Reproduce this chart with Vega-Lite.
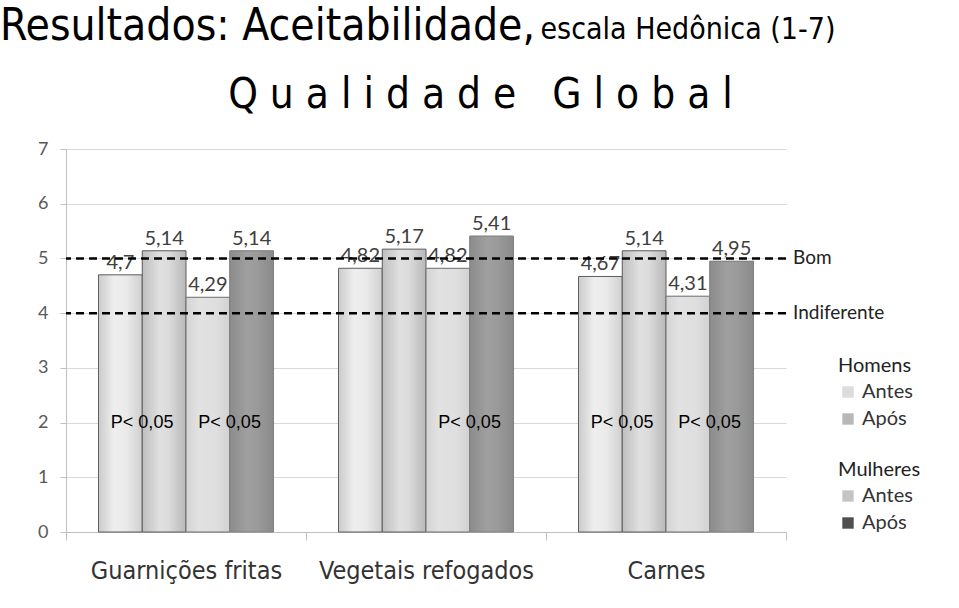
{
  "$schema": "https://vega.github.io/schema/vega-lite/v6.json",
  "width": 720,
  "height": 383,
  "autosize": {"type": "none"},
  "padding": {"left": 66, "top": 149, "right": 173, "bottom": 76},
  "background": "white",
  "config": {
    "locale": {"number": {"decimal": ",", "thousands": ".", "grouping": [3], "currency": ["", ""]}},
    "view": {"stroke": null},
    "font": "Lato",
    "legend": {
      "symbolType": "square",
      "symbolSize": 130,
      "symbolStrokeWidth": 0,
      "titleFont": "Lato",
      "titleFontSize": 20,
      "titleFontWeight": "normal",
      "titleColor": "#222222",
      "labelFont": "Lato",
      "labelFontSize": 20,
      "labelColor": "#333333",
      "rowPadding": 7,
      "titlePadding": 6
    }
  },
  "title": {
    "text": "Resultados: Aceitabilidade,",
    "anchor": "start",
    "frame": "group",
    "dx": -66,
    "dy": 39,
    "font": "DejaVu Sans Condensed, Liberation Sans Narrow, Liberation Sans, sans-serif",
    "fontSize": 44,
    "fontWeight": "normal",
    "color": "#000000"
  },
  "datasets": {
    "medias": [
      {"categoria": "Guarnições fritas", "grupo": "Homens", "periodo": "Antes", "serie": "Homens Antes", "valor": 4.7},
      {"categoria": "Guarnições fritas", "grupo": "Homens", "periodo": "Após", "serie": "Homens Após", "valor": 5.14},
      {"categoria": "Guarnições fritas", "grupo": "Mulheres", "periodo": "Antes", "serie": "Mulheres Antes", "valor": 4.29},
      {"categoria": "Guarnições fritas", "grupo": "Mulheres", "periodo": "Após", "serie": "Mulheres Após", "valor": 5.14},
      {"categoria": "Vegetais refogados", "grupo": "Homens", "periodo": "Antes", "serie": "Homens Antes", "valor": 4.82},
      {"categoria": "Vegetais refogados", "grupo": "Homens", "periodo": "Após", "serie": "Homens Após", "valor": 5.17},
      {"categoria": "Vegetais refogados", "grupo": "Mulheres", "periodo": "Antes", "serie": "Mulheres Antes", "valor": 4.82},
      {"categoria": "Vegetais refogados", "grupo": "Mulheres", "periodo": "Após", "serie": "Mulheres Após", "valor": 5.41},
      {"categoria": "Carnes", "grupo": "Homens", "periodo": "Antes", "serie": "Homens Antes", "valor": 4.67},
      {"categoria": "Carnes", "grupo": "Homens", "periodo": "Após", "serie": "Homens Após", "valor": 5.14},
      {"categoria": "Carnes", "grupo": "Mulheres", "periodo": "Antes", "serie": "Mulheres Antes", "valor": 4.31},
      {"categoria": "Carnes", "grupo": "Mulheres", "periodo": "Após", "serie": "Mulheres Após", "valor": 4.95}
    ],
    "linhas": [
      {"linha": "Bom", "valor": 5},
      {"linha": "Indiferente", "valor": 4}
    ],
    "significancia": [
      {"categoria": "Guarnições fritas", "serie": "Homens Após", "texto": "P< 0,05"},
      {"categoria": "Guarnições fritas", "serie": "Mulheres Após", "texto": "P< 0,05"},
      {"categoria": "Vegetais refogados", "serie": "Mulheres Após", "texto": "P< 0,05"},
      {"categoria": "Carnes", "serie": "Homens Após", "texto": "P< 0,05"},
      {"categoria": "Carnes", "serie": "Mulheres Após", "texto": "P< 0,05"}
    ]
  },
  "resolve": {"scale": {"fill": "independent"}},
  "layer": [
    {
      "data": {"name": "medias"},
      "transform": [{"filter": "datum.grupo === 'Homens'"}],
      "mark": {"type": "bar"},
      "encoding": {
        "x": {
          "field": "categoria", "type": "nominal",
          "sort": ["Guarnições fritas", "Vegetais refogados", "Carnes"],
          "scale": {"paddingInner": 0, "paddingOuter": 0},
          "axis": {
            "title": "Q u a l i d a d e\u00a0\u00a0\u00a0G l o b a l",
            "titleX": 414, "titleY": -425,
            "titleAlign": "center", "titleBaseline": "alphabetic",
            "titleFont": "DejaVu Sans Condensed, Liberation Sans Narrow, Liberation Sans, sans-serif", "titleFontSize": 42,
            "titleFontWeight": "normal", "titleColor": "#000000",
            "labelAngle": 0, "labelFont": "DejaVu Sans Condensed, Liberation Sans Narrow, Liberation Sans, sans-serif", "labelFontSize": 25,
            "labelColor": "#333333", "labelPadding": 18, "labelLimit": 300,
            "tickBand": "extent", "tickSize": 8, "tickColor": "#bfbfbf",
            "domainColor": "#bfbfbf", "grid": false
          }
        },
        "xOffset": {
          "field": "serie", "type": "nominal",
          "scale": {"domain": ["Homens Antes", "Homens Após", "Mulheres Antes", "Mulheres Após"], "paddingInner": 0, "paddingOuter": 0.743}
        },
        "y": {
          "field": "valor", "type": "quantitative",
          "scale": {"domain": [0, 7], "nice": false},
          "axis": {
            "title": "escala Hedônica (1-7)",
            "titleAngle": 0, "titleX": 474, "titleY": -111,
            "titleAlign": "left", "titleBaseline": "alphabetic",
            "titleFont": "DejaVu Sans Condensed, Liberation Sans Narrow, Liberation Sans, sans-serif", "titleFontSize": 30,
            "titleFontWeight": "normal", "titleColor": "#000000",
            "values": [0, 1, 2, 3, 4, 5, 6, 7], "format": "d",
            "grid": true, "gridColor": "#d9d9d9",
            "domainColor": "#bfbfbf", "tickColor": "#bfbfbf", "tickSize": 6,
            "labelFont": "Lato", "labelFontSize": 18, "labelColor": "#595959", "labelPadding": 12
          }
        },
        "fill": {
          "field": "periodo", "type": "nominal",
          "scale": {"domain": ["Antes", "Após"], "range": ["#dcdcdc", "#b8b8b8"]},
          "legend": {"title": "Homens", "orient": "none", "legendX": 772, "legendY": 207}
        }
      }
    },
    {
      "data": {"name": "medias"},
      "transform": [{"filter": "datum.grupo === 'Mulheres'"}],
      "mark": {"type": "bar"},
      "encoding": {
        "x": {"field": "categoria", "type": "nominal", "sort": ["Guarnições fritas", "Vegetais refogados", "Carnes"]},
        "xOffset": {"field": "serie", "type": "nominal"},
        "y": {"field": "valor", "type": "quantitative"},
        "fill": {
          "field": "periodo", "type": "nominal",
          "scale": {"domain": ["Antes", "Após"], "range": ["#c4c4c4", "#4f4f4f"]},
          "legend": {"title": "Mulheres", "orient": "none", "legendX": 772, "legendY": 311}
        }
      }
    },
    {
      "data": {"name": "medias"},
      "transform": [{"filter": "datum.serie === 'Homens Antes'"}],
      "mark": {"type": "bar", "stroke": "#5e5e5e", "strokeWidth": 1,
        "fill": {"gradient": "linear", "x1": 0, "x2": 1, "y1": 0, "y2": 0,
          "stops": [{"offset": 0, "color": "#cbcbcb"}, {"offset": 0.35, "color": "#eeeeee"}, {"offset": 0.65, "color": "#eaeaea"}, {"offset": 1, "color": "#cfcfcf"}]}},
      "encoding": {
        "x": {"field": "categoria", "type": "nominal", "sort": ["Guarnições fritas", "Vegetais refogados", "Carnes"]},
        "xOffset": {"field": "serie", "type": "nominal"},
        "y": {"field": "valor", "type": "quantitative"}
      }
    },
    {
      "data": {"name": "medias"},
      "transform": [{"filter": "datum.serie === 'Homens Após'"}],
      "mark": {"type": "bar", "stroke": "#5e5e5e", "strokeWidth": 1,
        "fill": {"gradient": "linear", "x1": 0, "x2": 1, "y1": 0, "y2": 0,
          "stops": [{"offset": 0, "color": "#bebebe"}, {"offset": 0.4, "color": "#e0e0e0"}, {"offset": 0.6, "color": "#dcdcdc"}, {"offset": 1, "color": "#b8b8b8"}]}},
      "encoding": {
        "x": {"field": "categoria", "type": "nominal", "sort": ["Guarnições fritas", "Vegetais refogados", "Carnes"]},
        "xOffset": {"field": "serie", "type": "nominal"},
        "y": {"field": "valor", "type": "quantitative"}
      }
    },
    {
      "data": {"name": "medias"},
      "transform": [{"filter": "datum.serie === 'Mulheres Antes'"}],
      "mark": {"type": "bar", "stroke": "#6e6e6e", "strokeWidth": 1,
        "fill": {"gradient": "linear", "x1": 0, "x2": 1, "y1": 0, "y2": 0,
          "stops": [{"offset": 0, "color": "#d4d4d4"}, {"offset": 0.3, "color": "#e2e2e2"}, {"offset": 0.7, "color": "#dedede"}, {"offset": 1, "color": "#d2d2d2"}]}},
      "encoding": {
        "x": {"field": "categoria", "type": "nominal", "sort": ["Guarnições fritas", "Vegetais refogados", "Carnes"]},
        "xOffset": {"field": "serie", "type": "nominal"},
        "y": {"field": "valor", "type": "quantitative"}
      }
    },
    {
      "data": {"name": "medias"},
      "transform": [{"filter": "datum.serie === 'Mulheres Após'"}],
      "mark": {"type": "bar", "stroke": "#808080", "strokeWidth": 1,
        "fill": {"gradient": "linear", "x1": 0, "x2": 1, "y1": 0, "y2": 0,
          "stops": [{"offset": 0, "color": "#8c8c8c"}, {"offset": 0.4, "color": "#9f9f9f"}, {"offset": 0.6, "color": "#9c9c9c"}, {"offset": 1, "color": "#8a8a8a"}]}},
      "encoding": {
        "x": {"field": "categoria", "type": "nominal", "sort": ["Guarnições fritas", "Vegetais refogados", "Carnes"]},
        "xOffset": {"field": "serie", "type": "nominal"},
        "y": {"field": "valor", "type": "quantitative"}
      }
    },
    {
      "data": {"name": "medias"},
      "mark": {"type": "text", "baseline": "alphabetic", "dy": -6, "fontSize": 20, "font": "Lato", "color": "#404040"},
      "encoding": {
        "x": {"field": "categoria", "type": "nominal", "sort": ["Guarnições fritas", "Vegetais refogados", "Carnes"]},
        "xOffset": {"field": "serie", "type": "nominal"},
        "y": {"field": "valor", "type": "quantitative"},
        "text": {"field": "valor", "type": "quantitative", "format": "~r"}
      }
    },
    {
      "data": {"name": "linhas"},
      "mark": {"type": "rule", "strokeDash": [8, 5], "strokeWidth": 2.5, "color": "#000000"},
      "encoding": {
        "y": {"field": "valor", "type": "quantitative"}
      }
    },
    {
      "data": {"name": "linhas"},
      "mark": {"type": "text", "align": "left", "baseline": "middle", "dx": 7, "fontSize": 19, "font": "Lato", "color": "#222222"},
      "encoding": {
        "x": {"datum": "Carnes", "type": "nominal", "bandPosition": 1},
        "y": {"field": "valor", "type": "quantitative"},
        "text": {"field": "linha", "type": "nominal"}
      }
    },
    {
      "data": {"name": "significancia"},
      "mark": {"type": "text", "align": "center", "baseline": "middle", "dx": -22, "fontSize": 18, "font": "Liberation Sans", "color": "#000000"},
      "encoding": {
        "x": {"field": "categoria", "type": "nominal", "sort": ["Guarnições fritas", "Vegetais refogados", "Carnes"]},
        "xOffset": {"field": "serie", "type": "nominal"},
        "y": {"datum": 2, "type": "quantitative"},
        "text": {"field": "texto", "type": "nominal"}
      }
    }
  ]
}
